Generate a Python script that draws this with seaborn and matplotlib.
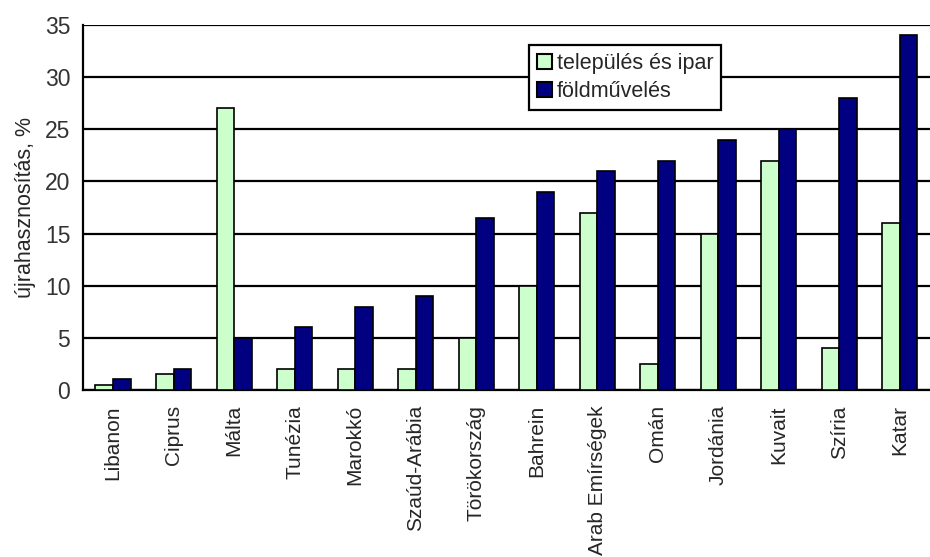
import matplotlib
matplotlib.use("Agg")
import matplotlib.pyplot as plt
import seaborn as sns
import pandas as pd
import numpy as np

countries = ["Libanon", "Ciprus", "Málta", "Tunézia", "Marokkó", "Szaúd-Arábia",
             "Törökország", "Bahrein", "Arab Emírségek", "Omán", "Jordánia",
             "Kuvait", "Szíria", "Katar"]
telepules_ipar = [0.5, 1.5, 27, 2, 2, 2, 5, 10, 17, 2.5, 15, 22, 4, 16]
foldmuveles = [1, 2, 5, 6, 8, 9, 16.5, 19, 21, 22, 24, 25, 28, 34]
series_names = ["település és ipar", "földművelés"]
y_ticks = [0, 5, 10, 15, 20, 25, 30, 35]

df = pd.DataFrame({
    "ország": countries * 2,
    "érték": telepules_ipar + foldmuveles,
    "felhasználás": [series_names[0]] * len(countries) + [series_names[1]] * len(countries),
})

sns.set_theme(style="white")
plt.rcParams["font.family"] = ["Liberation Sans", "DejaVu Sans"]

fig = plt.figure(figsize=(9.3, 5.57), dpi=100)
ax = fig.add_axes([0.089, 0.30, 0.911, 0.655])

sns.barplot(data=df, x="ország", y="érték", hue="felhasználás",
            order=countries, hue_order=series_names,
            palette=["#CCFFCC", "#000080"], saturation=1, width=0.58,
            edgecolor="black", linewidth=1.2, ax=ax, zorder=3)

ax.set_ylim(0, 35)
ax.set_xlim(-0.5, len(countries) - 0.5)
ax.set_yticks(y_ticks)
ax.set_yticklabels([str(v) for v in y_ticks], fontsize=16.5, color="#333333")
ax.yaxis.grid(True, color="black", linewidth=1.6, zorder=0)
ax.set_axisbelow(True)

ax.set_xticks(range(len(countries)))
ax.set_xticklabels(countries, rotation=90, fontsize=15, va="top")
ax.set_xticks(np.arange(-0.5, len(countries), 1.0), minor=True)
ax.tick_params(axis="x", which="major", length=0, pad=11)
ax.tick_params(axis="x", which="minor", length=6, width=1.6, color="black", direction="out")
ax.tick_params(axis="y", which="major", length=5, width=1.6, color="black", direction="out", pad=4)

ax.set_xlabel("")
ax.set_ylabel("újrahasznosítás, %", fontsize=15.5, labelpad=6)

for side in ["top", "right"]:
    ax.spines[side].set_visible(False)
for side in ["left", "bottom"]:
    ax.spines[side].set_color("black")
    ax.spines[side].set_linewidth(1.6)

leg = ax.legend(loc="upper left", bbox_to_anchor=(0.569, 0.919),
                bbox_transform=fig.transFigure, frameon=True, fancybox=False,
                fontsize=15.5, handlelength=0.7, handleheight=0.7, handletextpad=0.25,
                borderpad=0.35, labelspacing=0.35, borderaxespad=0)
leg.get_frame().set_edgecolor("black")
leg.get_frame().set_linewidth(1.6)
leg.get_frame().set_alpha(1)
leg.set_zorder(5)
for h in leg.legend_handles:
    h.set_edgecolor("black")
    h.set_linewidth(1.5)

fig.savefig("out.png", dpi=100)
